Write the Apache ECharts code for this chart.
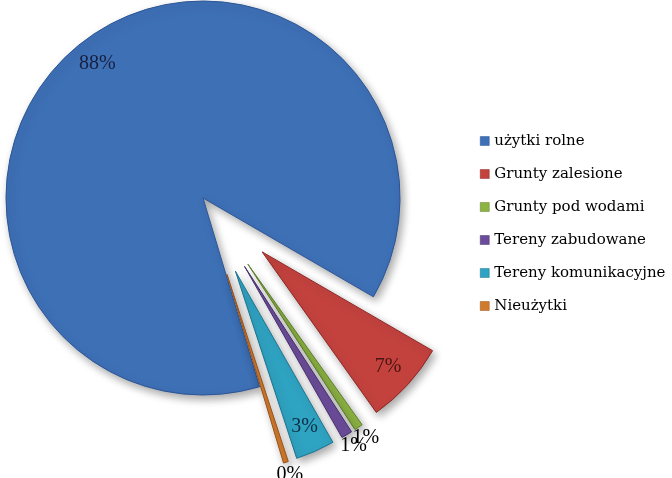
<!DOCTYPE html>
<html>
<head>
<meta charset="utf-8">
<script src="https://cdn.jsdelivr.net/npm/echarts@6/dist/echarts.min.js"></script>
<style>
html,body{margin:0;padding:0;background:#fff;}
#chart{width:672px;height:478px;}
</style>
</head>
<body>
<div id="chart"></div>
<script>
// ---- data ----
var categories = ['użytki rolne', 'Grunty zalesione', 'Grunty pod wodami', 'Tereny zabudowane', 'Tereny komunikacyjne', 'Nieużytki'];
var shares = [88.0, 6.8, 0.7, 0.9, 3.2, 0.4];
var exploded = [false, true, true, true, true, true];
var labelInside = [true, true, false, false, true, false];

// ---- styles ----
var colors = ['#3E70B6', '#C3423E', '#8DB443', '#6B4C9A', '#2FA3C2', '#D07A2E'];
var borders = ['#2A5596', '#8E2623', '#5E8026', '#452F6B', '#1C7590', '#9A5016'];
var insideText = ['#17203F', '#4A1412', '#2a3a10', '#221533', '#0D2F45', '#3a2008'];

var CX = 203, CY = 198, R = 197;

function pct(p) { return Math.round(p.percent) + '%'; }

var mainData = categories.map(function (n, i) {
  return {
    name: n, value: shares[i], selected: exploded[i],
    itemStyle: { color: colors[i], borderColor: borders[i], borderWidth: 1 }
  };
});
var labelDataIn = categories.map(function (n, i) {
  return {
    name: n, value: shares[i], selected: exploded[i],
    label: { show: labelInside[i], color: insideText[i] }
  };
});
var labelDataOut = categories.map(function (n, i) {
  return {
    name: n, value: shares[i], selected: exploded[i],
    label: { show: !labelInside[i] }
  };
});

var common = {
  type: 'pie',
  center: [CX, CY],
  startAngle: 286.7,
  clockwise: true,
  selectedMode: 'multiple',
  selectedOffset: 80,
  avoidLabelOverlap: false,
  animation: false,
  minShowLabelAngle: 0,
  labelLayout: { hideOverlap: false }
};

var option = {
  animation: false,
  color: colors,
  legend: {
    orient: 'vertical',
    left: 480,
    top: 132,
    padding: 0,
    itemWidth: 9,
    itemHeight: 9,
    itemGap: 15,
    icon: 'rect',
    selectedMode: false,
    data: categories.map(function (n, i) { return { name: n, itemStyle: { color: colors[i], borderColor: borders[i], borderWidth: 0.5 } }; }),
    textStyle: { fontFamily: 'DejaVu Serif', fontSize: 15, color: '#000', lineHeight: 18 }
  },
  series: [
    Object.assign({}, common, {
      name: 'main',
      radius: R,
      label: { show: false },
      labelLine: { show: false },
      itemStyle: { shadowBlur: 8, shadowOffsetX: 3, shadowOffsetY: 4, shadowColor: 'rgba(0,0,0,0.35)' },
      emphasis: { disabled: true },
      data: mainData
    }),
    Object.assign({}, common, {
      name: 'labelsIn',
      radius: [R * 0.7, R],
      silent: true,
      itemStyle: { color: 'rgba(0,0,0,0)' },
      label: { position: 'inside', formatter: pct, fontFamily: 'Liberation Serif', fontSize: 20 },
      labelLine: { show: false },
      emphasis: { disabled: true },
      data: labelDataIn
    }),
    Object.assign({}, common, {
      name: 'labelsOut',
      radius: [R, R * 1.1],
      silent: true,
      itemStyle: { color: 'rgba(0,0,0,0)' },
      label: { position: 'inside', formatter: pct, fontFamily: 'Liberation Serif', fontSize: 20, color: '#000' },
      labelLine: { show: false },
      emphasis: { disabled: true },
      data: labelDataOut
    })
  ]
};

var chart = echarts.init(document.getElementById('chart'), null, { renderer: 'canvas' });
chart.setOption(option);
</script>
</body>
</html>
